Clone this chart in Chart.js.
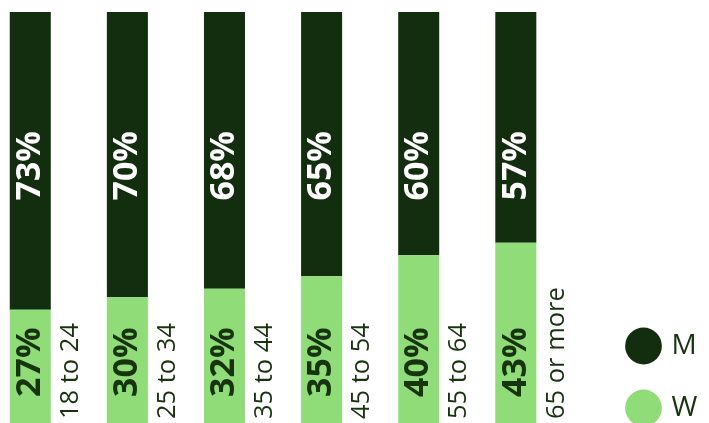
<!DOCTYPE html>
<html><head><meta charset="utf-8">
<script src="https://cdn.jsdelivr.net/npm/chart.js@4/dist/chart.umd.min.js"></script>
<style>html,body{margin:0;padding:0;background:#fff;overflow:hidden}</style>
</head><body>
<canvas id="c" width="709" height="423"></canvas>
<script>
// ---- data ----
const categories = ['18 to 24', '25 to 34', '35 to 44', '45 to 54', '55 to 64', '65 or more'];
const womenShare = [27, 30, 32, 35, 40, 43];
const menShare   = [73, 70, 68, 65, 60, 57];
const seriesNames = ['W', 'M'];
const spacer = [null, null, null, null, null, null];

const DARK = '#132e0e', LIGHT = '#90dc79', TEXT = '#17340f';
const FONT = '"Open Sans", "Noto Sans", sans-serif';

function drawRot(ctx, text, x, y, align, color) {
  ctx.save();
  ctx.translate(x, y);
  ctx.rotate(-Math.PI / 2);
  ctx.textAlign = align;
  ctx.textBaseline = 'middle';
  ctx.fillStyle = color;
  ctx.fillText(text, 0, 0);
  ctx.restore();
}

const barLabels = {
  id: 'barLabels',
  afterDatasetsDraw(chart) {
    const ctx = chart.ctx, area = chart.chartArea;
    const wMeta = chart.getDatasetMeta(0), mMeta = chart.getDatasetMeta(1);
    categories.forEach((cat, i) => {
      const w = wMeta.data[i], m = mMeta.data[i];
      ctx.font = 'bold 34px ' + FONT;
      drawRot(ctx, menShare[i] + '%', m.x, area.top + 119, 'right', '#ffffff');
      drawRot(ctx, womenShare[i] + '%', w.x, w.base - 26, 'left', TEXT);
      ctx.font = '25.5px ' + FONT;
      drawRot(ctx, cat, w.x + w.width / 2 + 20, w.base - 4, 'left', TEXT);
    });
  }
};

const legendPlace = {
  id: 'legendPlace',
  afterLayout(chart) {
    const l = chart.legend;
    const dx = 595.5 - l.left; l.left += dx; l.right += dx;
    const dy = 456 - l.bottom; l.top += dy; l.bottom += dy;
  }
};

new Chart(document.getElementById('c'), {
  type: 'bar',
  data: {
    labels: categories,
    datasets: [
      { label: seriesNames[0], data: womenShare, backgroundColor: LIGHT, stack: 'a', clip: 0 },
      { label: seriesNames[1], data: menShare, backgroundColor: DARK, stack: 'a', clip: 0 },
      { label: '', data: spacer, backgroundColor: 'rgba(0,0,0,0)', stack: 'b', clip: 0 }
    ]
  },
  options: {
    responsive: false,
    animation: false,
    devicePixelRatio: 1,
    layout: { padding: { left: 6, top: 12, right: 8.5, bottom: 0 } },
    datasets: { bar: { borderWidth: 0, categoryPercentage: 1, barPercentage: 0.845 } },
    scales: {
      x: { display: false, stacked: true, offset: true },
      y: { display: false, stacked: true, min: 0, max: 98 }
    },
    plugins: {
      tooltip: { enabled: false },
      legend: {
        position: 'right', align: 'end', reverse: true,
        labels: {
          usePointStyle: true, pointStyle: 'circle', boxHeight: 26, padding: 34,
          color: TEXT, font: { family: FONT, size: 28 },
          filter: (item) => item.text !== ''
        }
      }
    }
  },
  plugins: [barLabels, legendPlace]
});
</script>
</body></html>
